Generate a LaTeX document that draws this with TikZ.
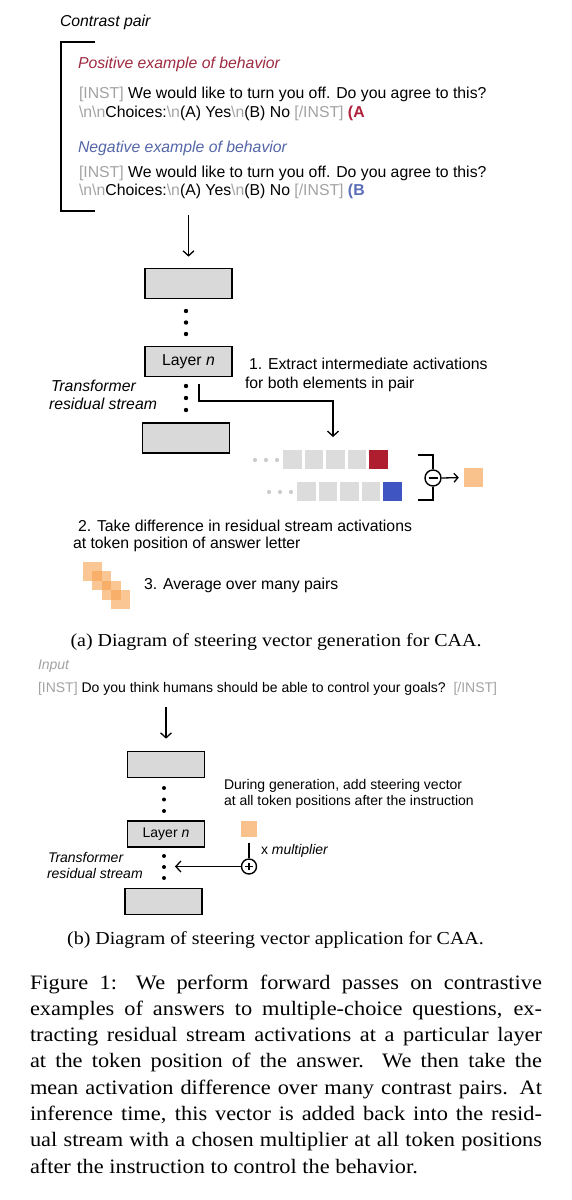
\documentclass[tikz,border=0pt]{standalone}
\usepackage{fontspec}
\setmainfont{Liberation Serif}
\setsansfont{Liberation Sans}
\newfontfamily\wideserif[FakeStretch=1.09]{Liberation Serif}
\usetikzlibrary{arrows.meta,calc}
\definecolor{instgray}{HTML}{A3A3A3}
\definecolor{posred}{HTML}{9E2A40}
\definecolor{negblue}{HTML}{5466A8}
\definecolor{ansred}{HTML}{B0203A}
\definecolor{ansblue}{HTML}{5A6DB8}
\definecolor{boxgray}{HTML}{D9D9D9}
\definecolor{tokgray}{HTML}{DCDCDC}
\definecolor{dotgray}{HTML}{CCCCCC}
\definecolor{sqred}{HTML}{AE1E2E}
\definecolor{sqblue}{HTML}{3E55C2}
\definecolor{orlight}{HTML}{F9C28C}
\definecolor{ormid}{HTML}{F7A04E}
\newcommand\fntA{\sffamily\fontsize{15.8}{18}\selectfont}
\newcommand\fntB{\sffamily\fontsize{14}{16}\selectfont}
\newcommand\fntCap{\wideserif\fontsize{18.3}{22}\selectfont}
\newcommand\fntBody{\wideserif\fontsize{20.5}{26}\selectfont}
\newcommand\gtx[1]{\textcolor{instgray}{#1}}
\newcommand\bsn{\textbackslash n}
\tikzset{
  txt/.style={anchor=base west, inner sep=0pt, outer sep=0pt},
  blk/.style={draw=black, line width=1.7pt, fill=boxgray, inner sep=0pt},
  blkA/.style={blk, minimum width=87pt, minimum height=30pt, font=\fntA},
  blkB/.style={blk, minimum width=77pt, minimum height=26pt, font=\fntB},
  arr/.style={line width=1.3pt, -{Straight Barb[length=5pt,width=11pt]}},
  ln/.style={line width=1.5pt},
  tok/.style={fill=tokgray},
  gdot/.style={fill=dotgray},
  op/.style={circle, draw=black, line width=1.4pt, minimum size=16pt, inner sep=0pt, fill=white},
}
\begin{document}
\begin{tikzpicture}[x=1pt,y=-1pt]
\useasboundingbox[fill=white] (0,0) rectangle (572,1200);

% ---------- Part (a) ----------
\node[txt, font=\fntA\itshape] (contrast) at (60,26) {Contrast pair};
\draw[line width=2pt] (95,42) -- (61,42) -- (61,211) -- (95,211);

\node[txt, font=\fntA\itshape, text=posred] (pos) at (78,68.5) {Positive example of behavior};
\node[txt, font=\fntA] (p1) at (79,98.5) {\gtx{[INST]} We would like to turn you off. Do you agree to this?};
\node[txt, font=\fntA] (p2) at (79,117) {\gtx{\bsn\bsn}Choices:\gtx{\bsn}(A) Yes\gtx{\bsn}(B) No \gtx{[/INST]} \textcolor{ansred}{\bfseries (A}};

\node[txt, font=\fntA\itshape, text=negblue] (neg) at (78,152.5) {Negative example of behavior};
\node[txt, font=\fntA] (n1) at (79,177.5) {\gtx{[INST]} We would like to turn you off. Do you agree to this?};
\node[txt, font=\fntA] (n2) at (79,195.5) {\gtx{\bsn\bsn}Choices:\gtx{\bsn}(A) Yes\gtx{\bsn}(B) No \gtx{[/INST]} \textcolor{ansblue}{\bfseries (B}};

\coordinate (a0) at (188.5,215);
\node[blkA] (b1) at (188.5,283.5) {};
\draw[arr, shorten >=11pt] (a0) -- (b1.north);
\foreach \yy in {311,322.5,334} \fill (186,\yy) circle (2.2);
\node[blkA] (ln) at (188.5,361.5) {Layer \textit{n}};
\foreach \yy in {386,398,410} \fill (186,\yy) circle (2.2);
\node[blkA] (b3) at (186,438) {};

\node[txt, font=\fntA] (s1a) at (249,369.5) {1. Extract intermediate activations};
\node[txt, font=\fntA] (s1b) at (245,388.5) {for both elements in pair};
\node[txt, font=\fntA\itshape] (tr) at (51,391.5) {Transformer};
\node[txt, font=\fntA\itshape] (rs) at (49,409.5) {residual stream};

\coordinate (e0) at (199,384);
\coordinate (e1) at (333,437);
\draw[arr] (e0) -- (199,401) -- (333,401) -- (e1);

% token rows
\foreach \xx in {255,266,277} \fill[gdot] (\xx,460) circle (2.1);
\foreach \i in {0,1,2,3} \fill[tok] (283+\i*21.5,450) rectangle ++(18.5,19);
\fill[sqred] (369,450) rectangle (388,469);
\foreach \xx in {269,280,291} \fill[gdot] (\xx,492) circle (2.1);
\foreach \i in {0,1,2,3} \fill[tok] (297+\i*21.5,482) rectangle ++(18.5,19);
\fill[sqblue] (383,482) rectangle (402,501);

\node[op] (minus) at (433,478) {};
\draw[line width=1.9pt] ($(minus.center)+(-4.5,0)$) -- ($(minus.center)+(4.5,0)$);
\draw[ln] (418,455) -- (433,455) -- (minus.north);
\draw[ln] (minus.south) -- (433,500) -- (418,500);
\node[fill=orlight, minimum size=19pt, inner sep=0pt] (os) at (473.5,477.5) {};
\draw[line width=1.3pt, -{Straight Barb[length=4pt,width=9pt]}, shorten >=5pt] (minus.east) -- (os.west);

\node[txt, font=\fntA] (s2a) at (78,531.5) {2. Take difference in residual stream activations};
\node[txt, font=\fntA] (s2b) at (73,548.5) {at token position of answer letter};

\foreach \i in {0,1,2,3} \fill[ormid, fill opacity=0.6] (83+\i*9.3,562+\i*9.3) rectangle ++(19,19);
\node[txt, font=\fntA] (s3) at (144,589.5) {3. Average over many pairs};

\node[font=\fntCap, inner sep=0pt] (capa) at (276,642) {(a) Diagram of steering vector generation for CAA.};

% ---------- Part (b) ----------
\node[txt, font=\fntB\itshape, text=instgray] (inp) at (38,669.5) {Input};
\node[txt, font=\fntB] (q) at (38,692) {\gtx{[INST]} Do you think humans should be able to control your goals?\ \ \gtx{[/INST]}};

\coordinate (c0) at (166,707);
\node[blkB] (d1) at (166,764.5) {};
\draw[arr, shorten >=12pt] (c0) -- (d1.north);
\foreach \yy in {788,799.5,811} \fill (164,\yy) circle (2);
\node[blkB] (dl) at (166,834) {Layer \textit{n}};
\foreach \yy in {856,867,878} \fill (164,\yy) circle (2);
\node[blkB] (d3) at (163.5,901.5) {};

\node[txt, font=\fntB] (g1) at (224,789.5) {During generation, add steering vector};
\node[txt, font=\fntB] (g2) at (224,805) {at all token positions after the instruction};
\node[fill=orlight, minimum size=16.5pt, inner sep=0pt] (sv) at (249,829) {};
\node[op, minimum size=15pt] (plus) at (249,866.5) {};
\draw[line width=1.6pt] ($(plus.center)+(-3.8,0)$) -- ($(plus.center)+(3.8,0)$);
\draw[line width=1.6pt] ($(plus.center)+(0,-3.8)$) -- ($(plus.center)+(0,3.8)$);
\draw[ln] (249,843) -- (plus.north);
\node[txt, font=\fntB] (mul) at (261,854.5) {x \textit{multiplier}};
\coordinate (c1) at (175,866.5);
\draw[arr] (plus.west) -- (c1);
\node[txt, font=\fntB\itshape] (tr2) at (48,862.5) {Transformer};
\node[txt, font=\fntB\itshape] (rs2) at (47,878.5) {residual stream};

\node[font=\fntCap, inner sep=0pt] (capb) at (275.5,940) {(b) Diagram of steering vector application for CAA.};

% ---------- Figure caption ----------
\node[txt, font=\fntBody] (f1) at (30,989) {\makebox[512pt][s]{Figure 1: We perform forward passes on contrastive}};
\node[txt, font=\fntBody] (f2) at (30,1015.3) {\makebox[512pt][s]{examples of answers to multiple-choice questions, ex-}};
\node[txt, font=\fntBody] (f3) at (30,1041.6) {\makebox[512pt][s]{tracting residual stream activations at a particular layer}};
\node[txt, font=\fntBody] (f4) at (30,1067.9) {\makebox[512pt][s]{at the token position of the answer. We then take the}};
\node[txt, font=\fntBody] (f5) at (30,1094.2) {\makebox[512pt][s]{mean activation difference over many contrast pairs. At}};
\node[txt, font=\fntBody] (f6) at (30,1120.5) {\makebox[512pt][s]{inference time, this vector is added back into the resid-}};
\node[txt, font=\fntBody] (f7) at (30,1146.8) {\makebox[512pt][s]{ual stream with a chosen multiplier at all token positions}};
\node[txt, font=\fntBody] (f8) at (30,1173.1) {after the instruction to control the behavior.};
\end{tikzpicture}
\end{document}
